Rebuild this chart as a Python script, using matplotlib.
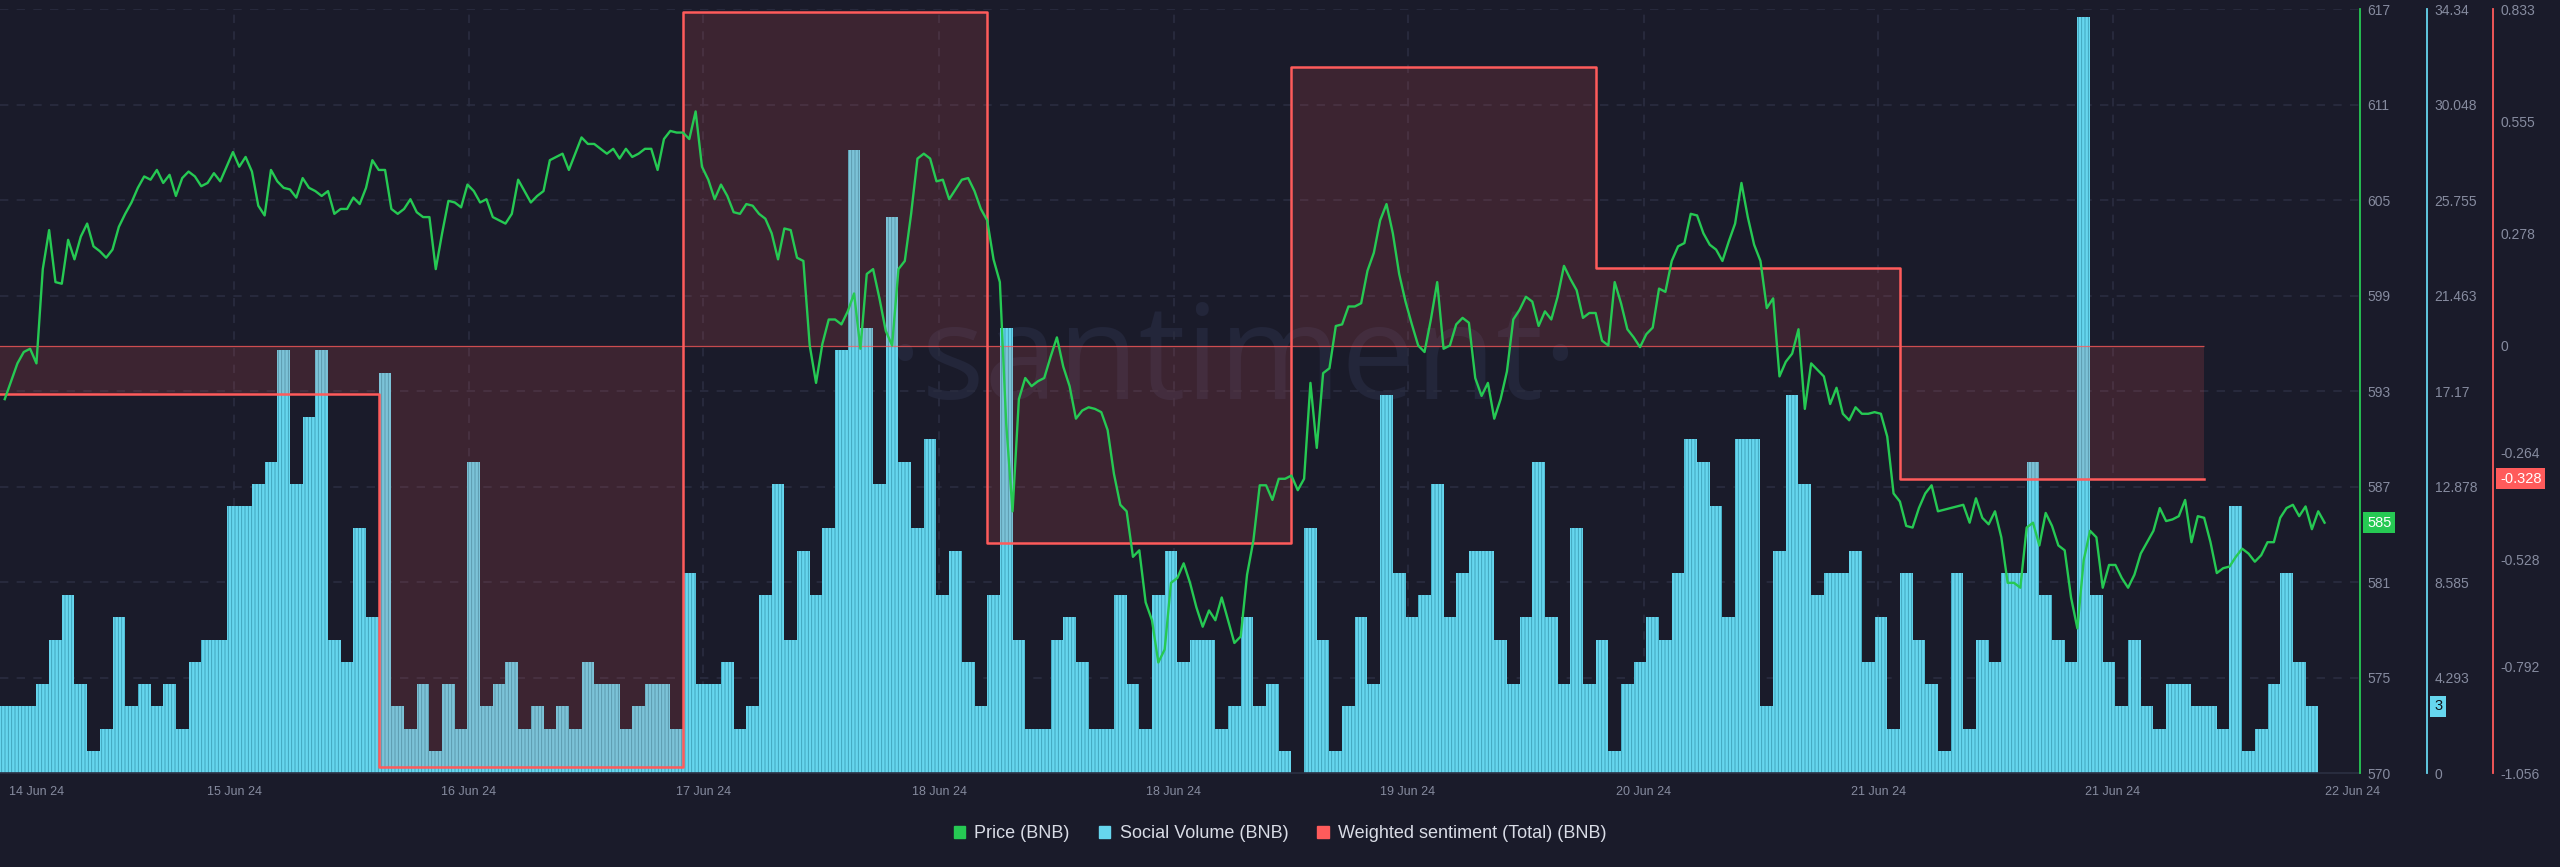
import matplotlib
matplotlib.use("Agg")
import matplotlib.pyplot as plt
import numpy as np
from matplotlib.patches import Patch

# time axis: hours counted from 13 Jun 24 18:00, bar i covers hour i..i+1
SOCIAL_VOLUME = [
    3, 3, 3, 4, 6, 8, 4, 1, 2, 7,
    3, 4, 3, 4, 2, 5, 6, 6, 12, 12,
    13, 14, 19, 13, 16, 19, 6, 5, 11, 7,
    18, 3, 2, 4, 1, 4, 2, 14, 3, 4,
    5, 2, 3, 2, 3, 2, 5, 4, 4, 2,
    3, 4, 4, 2, 9, 4, 4, 5, 2, 3,
    8, 13, 6, 10, 8, 11, 19, 28, 20, 13,
    25, 14, 11, 15, 8, 10, 5, 3, 8, 20,
    6, 2, 2, 6, 7, 5, 2, 2, 8, 4,
    2, 8, 10, 5, 6, 6, 2, 3, 7, 3,
    4, 1, 0, 11, 6, 1, 3, 7, 4, 17,
    9, 7, 8, 13, 7, 9, 10, 10, 6, 4,
    7, 14, 7, 4, 11, 4, 6, 1, 4, 5,
    7, 6, 9, 15, 14, 12, 7, 15, 15, 3,
    10, 17, 13, 8, 9, 9, 10, 5, 7, 2,
    9, 6, 4, 1, 9, 2, 6, 5, 9, 9,
    14, 8, 6, 5, 34, 8, 5, 3, 6, 3,
    2, 4, 4, 3, 3, 2, 12, 1, 2, 4,
    9, 5, 3,
]

# price sampled every half hour, first sample at hour 0.5
PRICE_T0 = 0.5
PRICE_DT = 0.5
PRICE = [
    593.0, 594.1, 595.2, 595.9, 596.1, 595.2, 601.0, 603.4, 600.2, 600.1,
    602.8, 601.6, 603.0, 603.8, 602.4, 602.1, 601.7, 602.2, 603.6, 604.4,
    605.1, 606.0, 606.7, 606.5, 607.1, 606.3, 606.8, 605.5, 606.6, 607.0,
    606.7, 606.1, 606.3, 606.9, 606.4, 607.3, 608.2, 607.3, 607.9, 607.0,
    604.9, 604.3, 607.1, 606.4, 606.0, 605.9, 605.4, 606.6, 606.0, 605.8,
    605.5, 605.8, 604.4, 604.7, 604.7, 605.4, 605.0, 606.0, 607.7, 607.1,
    607.1, 604.7,
    604.4, 604.7, 605.3, 604.5, 604.2, 604.2, 601.0, 603.2, 605.2, 605.1,
    604.8, 606.2, 605.8, 605.1, 605.3, 604.2, 604.0, 603.8, 604.4, 606.5,
    605.8, 605.1, 605.5, 605.8, 607.7, 607.9, 608.1, 607.1, 608.1, 609.1,
    608.7, 608.7, 608.4, 608.1, 608.4, 607.8, 608.4, 607.9, 608.1, 608.4,
    608.4, 607.1, 609.0, 609.5, 609.4, 609.4, 609.0, 610.7, 607.3, 606.5,
    605.3, 606.2, 605.5, 604.5, 604.4, 605.0, 604.9, 604.4, 604.1, 603.2,
    601.6, 603.5,
    603.4, 601.7, 601.5, 596.3, 594.0, 596.4, 597.9, 597.9, 597.6, 598.4,
    599.5, 596.1, 600.7, 601.0, 599.2, 597.2, 596.3, 601.0, 601.5, 604.4,
    607.8, 608.1, 607.8, 606.4, 606.5, 605.3, 605.9, 606.5, 606.6, 605.8,
    604.7, 604.0, 601.6, 600.2, 591.5, 586.1, 593.0, 594.3, 593.8, 594.1,
    594.3, 595.6, 596.8, 595.0, 593.8, 591.8, 592.3, 592.5, 592.4, 592.2,
    591.1, 588.4, 586.5, 586.1, 583.3, 583.7, 580.5, 579.4, 576.8, 577.6,
    581.7,
    582.0, 582.9, 581.7, 580.2, 579.0, 580.0, 579.4, 580.8, 579.4, 578.0,
    578.4, 582.2, 584.3, 587.7, 587.7, 586.8, 588.1, 588.1, 588.3, 587.4,
    588.1, 594.0, 590.0, 594.6, 594.9, 597.5, 597.6, 598.7, 598.7, 598.9,
    600.9, 602.0, 604.0, 605.0, 603.2, 600.7, 599.0, 597.6, 596.3, 595.9,
    597.9, 600.2, 596.1, 596.3, 597.6, 598.0, 597.7, 594.3, 593.2, 594.0,
    591.8, 593.0, 594.7, 597.9, 598.5, 599.3, 599.0, 597.5, 598.4, 597.9,
    599.3, 601.2,
    600.4, 599.7, 598.0, 598.3, 598.3, 596.6, 596.3, 600.2, 598.9, 597.3,
    596.8, 596.2, 597.0, 597.4, 599.8, 599.6, 601.5, 602.4, 602.6, 604.4,
    604.3, 603.2, 602.5, 602.2, 601.5, 602.7, 603.8, 606.3, 604.2, 602.5,
    601.5, 598.6, 599.2, 594.4, 595.3, 595.8, 597.3, 592.4, 595.2, 594.8,
    594.4, 592.7, 593.7, 592.1, 591.7, 592.5, 592.1, 592.1, 592.2, 592.1,
    590.7, 587.2, 586.7, 585.2, 585.1, 586.3, 587.2, 587.7, 586.1, 586.2,
    586.3,
    586.4, 586.5, 585.4, 586.9, 585.7, 585.3, 586.1, 584.5, 581.7, 581.7,
    581.4, 585.1, 585.4, 584.0, 586.0, 585.2, 584.0, 583.7, 580.8, 578.9,
    583.1, 584.9, 584.5, 581.4, 582.8, 582.8, 582.0, 581.4, 582.2, 583.5,
    584.2, 584.9, 586.3, 585.5, 585.6, 585.8, 586.8, 584.2, 585.8, 585.7,
    584.2, 582.3, 582.6, 582.7, 583.3, 583.8, 583.5, 583.0, 583.4, 584.2,
    584.2, 585.7, 586.3, 586.5, 585.8, 586.4, 585.0, 586.1, 585.4,
]

# weighted sentiment, one value per day (start hour of each day)
SENT_DAY_START = [0, 30, 54, 78, 102, 126, 150]
SENT_DAY_END = 174
SENTIMENT = [-0.12, -1.04, 0.826, -0.487, 0.69, 0.193, -0.328]

X_TICKS = [3.0, 18.6, 37.1, 55.6, 74.2, 92.7, 111.2, 129.8, 148.3, 166.8, 185.7]
X_LABELS = ["14 Jun 24", "15 Jun 24", "16 Jun 24", "17 Jun 24", "18 Jun 24", "18 Jun 24",
            "19 Jun 24", "20 Jun 24", "21 Jun 24", "21 Jun 24", "22 Jun 24"]
PRICE_TICK_LABELS = ["570", "575", "581", "587", "593", "599", "605", "611", "617"]
VOL_TICK_LABELS = ["0", "4.293", "8.585", "12.878", "17.17", "21.463", "25.755", "30.048", "34.34"]
SENT_TICKS = [-1.056, -0.792, -0.528, -0.264, 0, 0.278, 0.555, 0.833]
SENT_TICK_LABELS = ["-1.056", "-0.792", "-0.528", "-0.264", "0", "0.278", "0.555", "0.833"]

BG = "#1a1b2a"
GRID = "#2a2d40"
TXT = "#868b9f"
GREEN = "#26c953"
CYAN = "#66d6ee"
RED = "#ff5b5b"

plt.rcParams["font.family"] = ["Liberation Sans", "DejaVu Sans"]
plt.rcParams["hatch.linewidth"] = 0.6

fig = plt.figure(figsize=(25.6, 8.67), dpi=100, facecolor=BG)
ax_vol = fig.add_axes([0.0, 0.1084, 0.9219, 0.8812])
ax_vol.set_facecolor(BG)
ax_sent = ax_vol.twinx()
ax_price = ax_vol.twinx()

x_min, x_max = 0.125, 186.3
ax_vol.set_xlim(x_min, x_max)

# watermark
ax_vol.text(0.5225, 0.535, "\u00b7santiment\u00b7", transform=ax_vol.transAxes,
            ha="center", va="center", fontsize=95, color="#23263a",
            family=["Open Sans", "DejaVu Sans"], zorder=0.2)

# grid
vol_ticks = np.linspace(0, 34.34, 9)
for v in vol_ticks[1:]:
    ax_vol.axhline(v, color=GRID, lw=1.2, dashes=(5, 5), zorder=0.5)
for x in X_TICKS[1:-1]:
    ax_vol.axvline(x, color=GRID, lw=1.2, dashes=(5, 5), zorder=0.5)

# social volume bars
hours = np.arange(len(SOCIAL_VOLUME))
ax_vol.bar(hours, SOCIAL_VOLUME, width=1.0, align="edge", color=CYAN,
           edgecolor="#3b9db5", linewidth=0, hatch="|||||", zorder=2)
ax_vol.set_ylim(0, 34.34)

# weighted sentiment
sx = list(SENT_DAY_START) + [SENT_DAY_END]
sy = list(SENTIMENT) + [SENTIMENT[-1]]
ax_sent.fill_between(sx, sy, 0, step="post", color=RED, alpha=0.15, linewidth=0)
ax_sent.hlines(0, sx[0], SENT_DAY_END, color=RED, lw=0.9, alpha=0.75)
ax_sent.step(sx, sy, where="post", color=RED, lw=1.8)
ax_sent.set_ylim(-1.056, 0.833)

# price
pt = PRICE_T0 + PRICE_DT * np.arange(len(PRICE))
ax_price.plot(pt, PRICE, color=GREEN, lw=1.7, solid_joinstyle="round")
ax_price.set_ylim(570, 617)

ax_w = 0.9219 * 2560
for ax, off, col in [(ax_price, 0, GREEN), (ax_vol, 67, CYAN), (ax_sent, 133, RED)]:
    for s in ["top", "left", "bottom"]:
        ax.spines[s].set_visible(False)
    ax.spines["right"].set_visible(True)
    ax.spines["right"].set_position(("axes", 1 + off / ax_w))
    ax.spines["right"].set_color(col)
    ax.spines["right"].set_linewidth(1.3)
    ax.yaxis.tick_right()
    ax.tick_params(axis="y", length=0, pad=5.5, labelsize=10, labelcolor=TXT)

ax_vol.spines["bottom"].set_visible(True)
ax_vol.spines["bottom"].set_color("#2c3043")
ax_vol.spines["bottom"].set_linewidth(1.2)
ax_vol.spines["bottom"].set_bounds(x_min, x_max)

ax_price.set_yticks(np.linspace(570, 617, 9), PRICE_TICK_LABELS)
ax_vol.set_yticks(vol_ticks, VOL_TICK_LABELS)
ax_sent.set_yticks(SENT_TICKS, SENT_TICK_LABELS)

ax_vol.set_xticks(X_TICKS, X_LABELS)
ax_vol.tick_params(axis="x", length=0, pad=9, labelsize=9, labelcolor=TXT)

# last value markers
box = dict(boxstyle="square,pad=0.25", ec="none")
ax_price.annotate(f"{int(PRICE[-1])}", xy=(1, PRICE[-1]),
                  xycoords=("axes fraction", "data"), xytext=(5, 0),
                  textcoords="offset points", ha="left", va="center",
                  fontsize=10.5, color="white", bbox=dict(box, fc=GREEN),
                  annotation_clip=False)
ax_vol.annotate(f"{SOCIAL_VOLUME[-1]}", xy=(1 + 67 / ax_w, SOCIAL_VOLUME[-1]),
                xycoords=("axes fraction", "data"), xytext=(5, 0),
                textcoords="offset points", ha="left", va="center",
                fontsize=10.5, color="#111318", bbox=dict(box, fc=CYAN),
                annotation_clip=False)
ax_sent.annotate(f"{SENTIMENT[-1]:.3f}", xy=(1 + 133 / ax_w, SENTIMENT[-1]),
                 xycoords=("axes fraction", "data"), xytext=(5, 0),
                 textcoords="offset points", ha="left", va="center",
                 fontsize=10.5, color="white", bbox=dict(box, fc=RED),
                 annotation_clip=False)

handles = [Patch(color=GREEN), Patch(color=CYAN), Patch(color=RED)]
labels = ["Price (BNB)", "Social Volume (BNB)", "Weighted sentiment (Total) (BNB)"]
fig.legend(handles, labels, loc="center", bbox_to_anchor=(0.5, 1 - 834 / 867),
           ncol=3, frameon=False, fontsize=13, labelcolor="#d9dce6",
           handlelength=0.65, handleheight=0.65, handletextpad=0.5,
           columnspacing=1.6)

fig.savefig("out.png", dpi=100, facecolor=BG)
